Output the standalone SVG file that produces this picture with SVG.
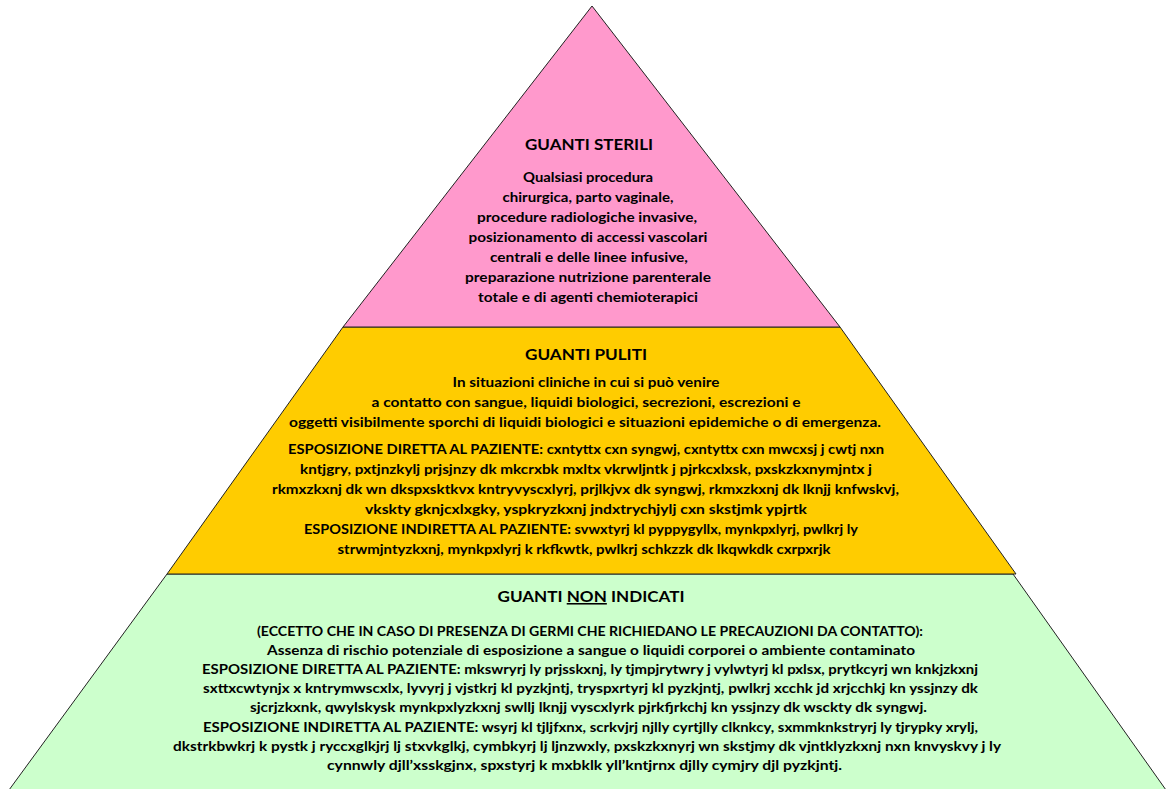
<svg xmlns="http://www.w3.org/2000/svg" width="1166" height="789" viewBox="0 0 1166 789">
<style>
.layer{stroke:#222;stroke-width:1}
.t{font-family:Lato,"Open Sans","Liberation Sans",sans-serif;font-weight:700;font-size:14px;fill:#000;text-anchor:middle}
.h{font-size:15.5px}
.s{font-size:13.5px}
.u{text-decoration:underline}
</style>
<rect width="1166" height="789" fill="#fff"/>
<g id="level-bottom">
<polygon class="layer" points="167,574 1013,574 1166,790 9,790" fill="#CCFFCC"/>
<text class="t h" x="591" y="602" textLength="187" lengthAdjust="spacingAndGlyphs">GUANTI <tspan class="u">NON</tspan> INDICATI</text>
<text class="t" x="590" y="636" textLength="666" lengthAdjust="spacingAndGlyphs">(ECCETTO CHE IN CASO DI PRESENZA DI GERMI CHE RICHIEDANO LE PRECAUZIONI DA CONTATTO):</text>
<text class="t" x="591" y="655" textLength="648" lengthAdjust="spacingAndGlyphs">Assenza di rischio potenziale di esposizione a sangue o liquidi corporei o ambiente contaminato</text>
<text class="t" x="590" y="674" textLength="776" lengthAdjust="spacingAndGlyphs">ESPOSIZIONE DIRETTA AL PAZIENTE: mkswryrj ly prjsskxnj, ly tjmpjrytwry j vylwtyrj kl pxlsx, prytkcyrj wn knkjzkxnj</text>
<text class="t" x="590.5" y="693" textLength="775" lengthAdjust="spacingAndGlyphs">sxttxcwtynjx x kntrymwscxlx, lyvyrj j vjstkrj kl pyzkjntj, tryspxrtyrj kl pyzkjntj, pwlkrj xcchk jd xrjcchkj kn yssjnzy dk</text>
<text class="t" x="588.5" y="712" textLength="677" lengthAdjust="spacingAndGlyphs">sjcrjzkxnk, qwylskysk mynkpxlyzkxnj swllj lknjj vyscxlyrk pjrkfjrkchj kn yssjnzy dk wsckty dk syngwj.</text>
<text class="t" x="590.5" y="732" textLength="775" lengthAdjust="spacingAndGlyphs">ESPOSIZIONE INDIRETTA AL PAZIENTE: wsyrj kl tjljfxnx, scrkvjrj njlly cyrtjlly clknkcy, sxmmknkstryrj ly tjrypky xrylj,</text>
<text class="t" x="587" y="751" textLength="828" lengthAdjust="spacingAndGlyphs">dkstrkbwkrj k pystk j ryccxglkjrj lj stxvkglkj, cymbkyrj lj ljnzwxly, pxskzkxnyrj wn skstjmy dk vjntklyzkxnj nxn knvyskvy j ly</text>
<text class="t" x="584.5" y="770" textLength="515" lengthAdjust="spacingAndGlyphs">cynnwly djll’xsskgjnx, spxstyrj k mxbklk yll’kntjrnx djlly cymjry djl pyzkjntj.</text>
</g>
<g id="level-middle">
<polygon class="layer" points="343,327 840,327 1016,574 167,574" fill="#FFCC00"/>
<text class="t h" x="586" y="360" textLength="122" lengthAdjust="spacingAndGlyphs">GUANTI PULITI</text>
<text class="t" x="586" y="387" textLength="267" lengthAdjust="spacingAndGlyphs">In situazioni cliniche in cui si può venire</text>
<text class="t" x="586" y="407" textLength="429" lengthAdjust="spacingAndGlyphs">a contatto con sangue, liquidi biologici, secrezioni, escrezioni e</text>
<text class="t" x="585" y="427" textLength="592" lengthAdjust="spacingAndGlyphs">oggetti visibilmente sporchi di liquidi biologici e situazioni epidemiche o di emergenza.</text>
<text class="t s" x="586" y="454" textLength="596" lengthAdjust="spacingAndGlyphs">ESPOSIZIONE DIRETTA AL PAZIENTE: cxntyttx cxn syngwj, cxntyttx cxn mwcxsj j cwtj nxn</text>
<text class="t s" x="586" y="474" textLength="572" lengthAdjust="spacingAndGlyphs">kntjgry, pxtjnzkylj prjsjnzy dk mkcrxbk mxltx vkrwljntk j pjrkcxlxsk, pxskzkxnymjntx j</text>
<text class="t s" x="585.5" y="494" textLength="627" lengthAdjust="spacingAndGlyphs">rkmxzkxnj dk wn dkspxsktkvx kntryvyscxlyrj, prjlkjvx dk syngwj, rkmxzkxnj dk lknjj knfwskvj,</text>
<text class="t s" x="586" y="514" textLength="442" lengthAdjust="spacingAndGlyphs">vkskty gknjcxlxgky, yspkryzkxnj jndxtrychjylj cxn skstjmk ypjrtk</text>
<text class="t s" x="581" y="534" textLength="554" lengthAdjust="spacingAndGlyphs">ESPOSIZIONE INDIRETTA AL PAZIENTE: svwxtyrj kl pyppygyllx, mynkpxlyrj, pwlkrj ly</text>
<text class="t s" x="584" y="554" textLength="493" lengthAdjust="spacingAndGlyphs">strwmjntyzkxnj, mynkpxlyrj k rkfkwtk, pwlkrj schkzzk dk lkqwkdk cxrpxrjk</text>
</g>
<g id="level-top">
<polygon class="layer" points="592,6 840,327 343,327" fill="#FF99CC"/>
<text class="t h" x="589" y="150" textLength="128" lengthAdjust="spacingAndGlyphs">GUANTI STERILI</text>
<text class="t" x="588" y="182" textLength="130" lengthAdjust="spacingAndGlyphs">Qualsiasi procedura</text>
<text class="t" x="588" y="202" textLength="171" lengthAdjust="spacingAndGlyphs">chirurgica, parto vaginale,</text>
<text class="t" x="587" y="222" textLength="220" lengthAdjust="spacingAndGlyphs">procedure radiologiche invasive,</text>
<text class="t" x="588" y="242" textLength="239" lengthAdjust="spacingAndGlyphs">posizionamento di accessi vascolari</text>
<text class="t" x="589" y="262" textLength="198" lengthAdjust="spacingAndGlyphs">centrali e delle linee infusive,</text>
<text class="t" x="588" y="282" textLength="246" lengthAdjust="spacingAndGlyphs">preparazione nutrizione parenterale</text>
<text class="t" x="588" y="302" textLength="220" lengthAdjust="spacingAndGlyphs">totale e di agenti chemioterapici</text>
</g>
</svg>
